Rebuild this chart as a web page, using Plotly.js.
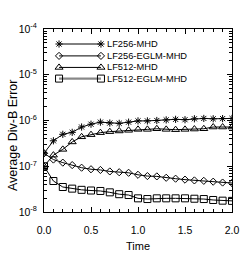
<!DOCTYPE html>
<html><head><meta charset="utf-8">
<script src="https://cdn.plot.ly/plotly-3.0.1.min.js"></script>
<style>html,body{margin:0;padding:0;background:#fff;}#chart{width:245px;height:268px;}</style>
</head><body><div id="chart"></div>
<script>
const time = [0.0,0.1,0.2,0.3,0.4,0.5,0.6,0.7,0.8,0.9,1.0,1.1,1.2,1.3,1.4,1.5,1.6,1.7,1.8,1.9,2.0];
const lf256mhd = [1.92e-7,3.6e-7,4.99e-7,5.51e-7,7.2e-7,8.3e-7,9.2e-7,8.8e-7,8.67e-7,9.2e-7,9.8e-7,9.8e-7,1.0e-6,1.03e-6,1.06e-6,1.04e-6,1.09e-6,1.11e-6,1.09e-6,1.1e-6,1.11e-6];
const lf256eglm = [1.92e-7,1.4e-7,1.2e-7,1.06e-7,9.3e-8,8.6e-8,8.3e-8,7.7e-8,7.4e-8,7.2e-8,6.5e-8,6.1e-8,6.0e-8,5.6e-8,5.35e-8,5.1e-8,4.9e-8,4.8e-8,4.6e-8,4.4e-8,4.3e-8];
const lf512mhd = [1.0e-7,1.75e-7,2.34e-7,3.4e-7,4.4e-7,4.9e-7,5.42e-7,5.7e-7,5.9e-7,6.1e-7,6.4e-7,6.4e-7,6.6e-7,6.4e-7,6.3e-7,6.4e-7,6.5e-7,6.6e-7,7.2e-7,7.2e-7,7.2e-7];
const lf512eglm = [1.0e-7,4.76e-8,3.52e-8,3.24e-8,3.05e-8,2.95e-8,2.88e-8,2.69e-8,2.45e-8,2.35e-8,1.99e-8,1.92e-8,1.99e-8,1.99e-8,1.99e-8,1.99e-8,1.95e-8,1.92e-8,1.83e-8,1.77e-8,1.75e-8];
const seriesNames = ['LF256-MHD','LF256-EGLM-MHD','LF512-MHD','LF512-EGLM-MHD'];
const seriesSymbols = ['asterisk-open','diamond-open','triangle-up-open','square-open'];
const seriesSizes = [6,5.5,7,7];
const xTickVals = [0,0.5,1,1.5,2];
const xTickText = ['0.0','0.5','1.0','1.5','2.0'];
const yTickVals = [1e-8,1e-7,1e-6,1e-5,1e-4];
const yTickText = ['10<sup>-8</sup>','10<sup>-7</sup>','10<sup>-6</sup>','10<sup>-5</sup>','10<sup>-4</sup>'];
const xTitle = 'Time';
const yTitle = 'Average Div-B Error';

const fam = '"Liberation Sans", Arial, Helvetica, sans-serif';
const series = [lf256mhd, lf256eglm, lf512mhd, lf512eglm];
const traces = series.map((ys, i) => ({
  x: time, y: ys, type: 'scatter', mode: 'lines+markers', name: seriesNames[i],
  line: {color: '#000', width: 1},
  marker: {symbol: seriesSymbols[i], size: seriesSizes[i], color: '#000', line: {color: '#000', width: 1}},
  showlegend: false
}));
// legend samples drawn on an overlay axis spanning the plot area (0..1)
const legRowY = [0.918, 0.853, 0.790, 0.729];
const legLineColor = ['#000','#000','#000','#888'];
const legLineWidth = [1,1,1,2.2];
const annotations = [];
seriesNames.forEach((n, i) => {
  traces.push({
    x: [0.08, 0.303], y: [legRowY[i], legRowY[i]], xaxis: 'x2', yaxis: 'y2',
    type: 'scatter', mode: 'lines+markers', showlegend: false, hoverinfo: 'skip',
    line: {color: legLineColor[i], width: legLineWidth[i]},
    marker: {symbol: seriesSymbols[i], size: seriesSizes[i], color: '#000', line: {color: '#000', width: 1}}
  });
  annotations.push({xref: 'x2', yref: 'y2', x: 0.322, y: legRowY[i], text: n, showarrow: false,
    xanchor: 'left', yanchor: 'middle', font: {family: fam, size: 9.3, color: '#000'}});
});
// y-axis title placed as a rotated annotation to match the reference position
annotations.push({xref: 'paper', yref: 'paper', x: -0.165, y: 0.42, text: yTitle, textangle: -90,
  showarrow: false, xanchor: 'center', yanchor: 'middle', font: {family: fam, size: 12.5, color: '#000'}});

const layout = {
  width: 245, height: 268,
  margin: {l: 44, r: 13, t: 29, b: 56},
  paper_bgcolor: '#fff', plot_bgcolor: '#fff',
  showlegend: false,
  annotations: annotations,
  font: {family: fam, color: '#000'},
  xaxis: {
    range: [0, 2], showline: true, linecolor: '#000', linewidth: 1, mirror: 'ticks',
    ticks: 'inside', ticklen: 5, tickcolor: '#000', tickwidth: 1,
    tickmode: 'array', tickvals: xTickVals, ticktext: xTickText,
    minor: {dtick: 0.1, ticks: 'inside', ticklen: 3, tickcolor: '#000', showgrid: false},
    showgrid: false, zeroline: false, ticklabelstandoff: 8,
    tickfont: {family: fam, size: 10.5, color: '#000'},
    title: {text: xTitle, font: {family: fam, size: 11, color: '#000'}, standoff: 7}
  },
  yaxis: {
    type: 'log', range: [-8, -4], showline: true, linecolor: '#000', linewidth: 1, mirror: 'ticks',
    ticks: 'inside', ticklen: 5, tickcolor: '#000', tickwidth: 1,
    tickmode: 'array', tickvals: yTickVals, ticktext: yTickText,
    minor: {dtick: 'D1', ticks: 'inside', ticklen: 3, tickcolor: '#000', showgrid: false},
    showgrid: false, zeroline: false, ticklabelstandoff: 4,
    tickfont: {family: fam, size: 10.5, color: '#000'}
  },
  xaxis2: {overlaying: 'x', range: [0, 1], visible: false, fixedrange: true},
  yaxis2: {overlaying: 'y', range: [0, 1], visible: false, fixedrange: true}
};
Plotly.newPlot('chart', traces, layout, {displayModeBar: false, staticPlot: true});
</script></body></html>
